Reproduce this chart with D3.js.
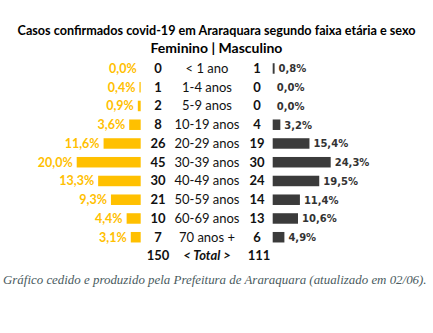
<!DOCTYPE html>
<html>
<head>
<meta charset="utf-8">
<script src="https://cdn.jsdelivr.net/npm/d3@7"></script>
<style>
  body { margin: 0; background: #fff; }
</style>
</head>
<body>
<div id="chart"></div>
<script>
// Data
const ages = ["< 1 ano", "1-4 anos", "5-9 anos", "10-19 anos", "20-29 anos", "30-39 anos", "40-49 anos", "50-59 anos", "60-69 anos", "70 anos +"];
const femCount = [0, 1, 2, 8, 26, 45, 30, 21, 10, 7];
const femPct = [0.0, 0.4, 0.9, 3.6, 11.6, 20.0, 13.3, 9.3, 4.4, 3.1];
const mascCount = [1, 0, 0, 4, 19, 30, 24, 14, 13, 6];
const mascPct = [0.8, 0.0, 0.0, 3.2, 15.4, 24.3, 19.5, 11.4, 10.6, 4.9];
const totals = [150, 111];

const width = 433;
const height = 333;
const gold = "#ffc000";
const dark = "#3b3b3b";
const mainFont = "Lato, 'Open Sans', sans-serif";

const svg = d3.select("#chart")
  .append("svg")
    .attr("width", width)
    .attr("height", height);

// shrink/grow a text's font size so it spans the wanted width
const fitText = (sel, wanted) => {
  const size = +sel.attr("font-size");
  const len = sel.node().getComputedTextLength();
  sel.attr("font-size", size * wanted / len);
};

// Titles
svg.append("text")
  .attr("x", 216.5).attr("y", 35)
  .attr("text-anchor", "middle")
  .attr("font-family", mainFont)
  .attr("font-weight", "bold")
  .attr("font-size", 14)
  .text("Casos confirmados covid-19 em Araraquara segundo faixa etária e sexo")
  .call(fitText, 398);

svg.append("text")
  .attr("x", 216.5).attr("y", 53)
  .attr("text-anchor", "middle")
  .attr("font-family", mainFont)
  .attr("font-weight", "bold")
  .attr("font-size", 14)
  .text("Feminino | Masculino");

// Scales
const y = d3.scaleBand()
  .domain(ages)
  .range([59.1, 59.1 + 18.75 * ages.length]);

const xFem = d3.scaleLinear().domain([0, 20]).range([140.7, 76.7]);
const xMasc = d3.scaleLinear().domain([0, 24.3]).range([272.7, 330.7]);

const fmt = v => d3.format(".1f")(v).replace(".", ",") + "%";
const barH = 10.5;

const rows = ages.map((a, i) => ({
  age: a, fc: femCount[i], fp: femPct[i], mc: mascCount[i], mp: mascPct[i]
}));

const row = svg.append("g")
  .selectAll("g")
  .data(rows)
  .join("g")
    .attr("transform", d => `translate(0, ${y(d.age) + y.bandwidth() / 2})`);

// Female bars
row.append("rect")
  .attr("x", d => xFem(d.fp))
  .attr("y", -barH / 2)
  .attr("width", d => xFem(0) - xFem(d.fp))
  .attr("height", barH)
  .attr("fill", gold);

row.append("text")
  .attr("x", d => xFem(d.fp) - 4)
  .attr("y", 4.5)
  .attr("text-anchor", "end")
  .attr("font-family", mainFont)
  .attr("font-weight", "bold")
  .attr("font-size", 12.5)
  .attr("fill", gold)
  .text(d => fmt(d.fp));

// Counts and age labels
row.append("text")
  .attr("x", 158)
  .attr("y", 4.5)
  .attr("text-anchor", "middle")
  .attr("font-family", mainFont)
  .attr("font-weight", "bold")
  .attr("font-size", 13)
  .attr("fill", "#111")
  .text(d => d.fc);

row.append("text")
  .attr("x", 207)
  .attr("y", 4.5)
  .attr("text-anchor", "middle")
  .attr("font-family", mainFont)
  .attr("font-size", 13)
  .attr("fill", "#111")
  .text(d => d.age);

row.append("text")
  .attr("x", 257)
  .attr("y", 4.5)
  .attr("text-anchor", "middle")
  .attr("font-family", mainFont)
  .attr("font-weight", "bold")
  .attr("font-size", 13)
  .attr("fill", "#111")
  .text(d => d.mc);

// Male bars
row.append("rect")
  .attr("x", xMasc(0))
  .attr("y", -barH / 2)
  .attr("width", d => xMasc(d.mp) - xMasc(0))
  .attr("height", barH)
  .attr("fill", dark);

row.append("text")
  .attr("x", d => xMasc(d.mp) + 4)
  .attr("y", 4)
  .attr("font-family", "'DejaVu Sans', Verdana, sans-serif")
  .attr("font-weight", "bold")
  .attr("font-size", 10)
  .attr("fill", "#333")
  .text(d => fmt(d.mp));

// Total row
const yTot = 59.1 + 18.75 * ages.length + y.bandwidth() / 2 + 4.5;
const total = svg.append("g").attr("font-family", mainFont).attr("font-size", 13).attr("fill", "#111");
total.append("text").attr("x", 158).attr("y", yTot).attr("text-anchor", "middle")
  .attr("font-weight", "bold").text(totals[0]);
total.append("text").attr("x", 207).attr("y", yTot).attr("text-anchor", "middle")
  .attr("font-weight", "bold").attr("font-style", "italic").text("< Total >");
total.append("text").attr("x", 259).attr("y", yTot).attr("text-anchor", "middle")
  .attr("font-weight", "bold").text(totals[1]);

// Caption
svg.append("text")
  .attr("x", 3).attr("y", 284)
  .attr("font-family", "'Liberation Serif', 'DejaVu Serif', serif")
  .attr("font-style", "italic")
  .attr("font-size", 13)
  .attr("fill", "#4a5b60")
  .text("Gráfico cedido e produzido pela Prefeitura de Araraquara (atualizado em 02/06).")
  .call(fitText, 424);
</script>
</body>
</html>
